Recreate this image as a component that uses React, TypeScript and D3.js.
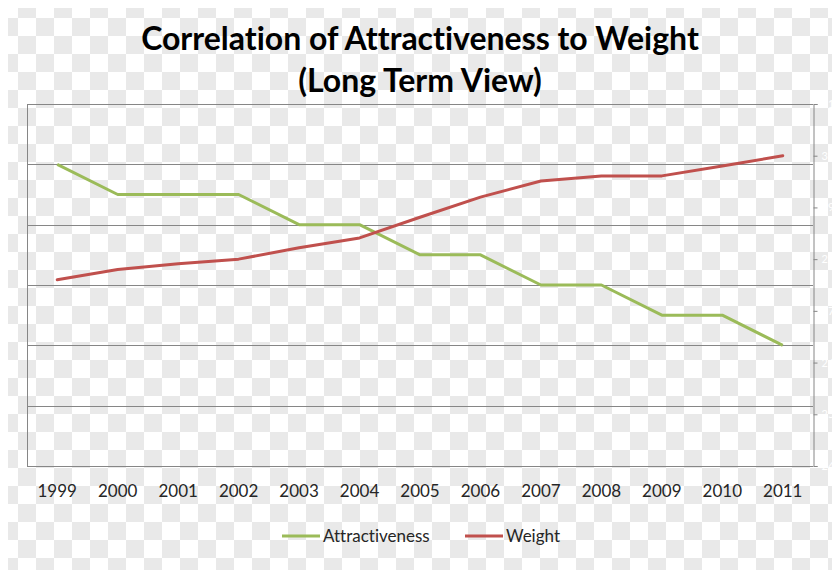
import { useEffect, useRef } from "react";
import * as d3 from "d3";

const years = ["1999", "2000", "2001", "2002", "2003", "2004", "2005", "2006", "2007", "2008", "2009", "2010", "2011"];
const attractiveness = [5, 4.5, 4.5, 4.5, 4, 4, 3.5, 3.5, 3, 3, 2.5, 2.5, 2];
const weight = [276, 278, 279.1, 280, 282.2, 284.1, 288.1, 292, 295.1, 296.1, 296.1, 298, 300];
const leftTicks = [0, 1, 2, 3, 4, 5, 6];
const rightTicks = [240, 250, 260, 270, 280, 290, 300, 310];

const GREEN = "#9bbb59";
const RED = "#c0504d";
const FONT = "Lato, sans-serif";

const App = () => {
  const svgRef = useRef<SVGSVGElement | null>(null);

  useEffect(() => {
    d3.select(svgRef.current).selectAll("*").remove();

    const width = 840;
    const height = 578;
    const plot = { left: 27, right: 813, top: 104, bottom: 466 };

    const svg = d3
      .select(svgRef.current)
      .attr("width", width)
      .attr("height", height)
      .style("font-variant-ligatures", "none");

    // checkerboard background
    const defs = svg.append("defs");
    const pat = defs
      .append("pattern")
      .attr("id", "checker")
      .attr("width", 36)
      .attr("height", 36)
      .attr("patternUnits", "userSpaceOnUse");
    pat.append("rect").attr("width", 36).attr("height", 36).attr("fill", "#ffffff");
    pat.append("rect").attr("x", 18).attr("y", 0).attr("width", 18).attr("height", 18).attr("fill", "#e9e9e9");
    pat.append("rect").attr("x", 0).attr("y", 18).attr("width", 18).attr("height", 18).attr("fill", "#e9e9e9");
    svg.append("rect").attr("width", width).attr("height", height).attr("fill", "url(#checker)");

    const x = d3.scaleBand().domain(years).range([plot.left, plot.right]);
    const cx = (d: string) => (x(d) || 0) + x.bandwidth() / 2;
    const yL = d3.scaleLinear().domain([0, 6]).range([plot.bottom, plot.top]);
    const yR = d3.scaleLinear().domain([240, 310]).range([plot.bottom, plot.top]);

    // gridlines
    svg
      .append("g")
      .selectAll("line")
      .data(leftTicks)
      .enter()
      .append("line")
      .attr("x1", plot.left)
      .attr("x2", plot.right)
      .attr("y1", (d) => Math.round(yL(d)) + 0.5)
      .attr("y2", (d) => Math.round(yL(d)) + 0.5)
      .attr("stroke", "#868686")
      .attr("stroke-width", 1);

    // left border
    svg
      .append("line")
      .attr("x1", plot.left + 0.5)
      .attr("x2", plot.left + 0.5)
      .attr("y1", plot.top)
      .attr("y2", plot.bottom)
      .attr("stroke", "#868686");

    // secondary axis (labels are white in the original)
    const rAxis = svg
      .append("g")
      .attr("transform", `translate(${plot.right + 0.5},0)`)
      .call(d3.axisRight(yR).tickValues(rightTicks).tickSize(4).tickPadding(4));
    rAxis.selectAll("path, line").attr("stroke", "#868686");
    rAxis.selectAll("text").attr("fill", "#ffffff").style("font-family", FONT).style("font-size", "11px");

    // x labels
    svg
      .append("g")
      .selectAll("text")
      .data(years)
      .enter()
      .append("text")
      .attr("x", (d) => cx(d))
      .attr("y", 497)
      .attr("text-anchor", "middle")
      .style("font-family", FONT)
      .style("font-size", "17px")
      .attr("fill", "#262626")
      .text((d) => d);

    const lineL = d3
      .line<number>()
      .x((_, i) => cx(years[i]))
      .y((d) => yL(d));
    const lineR = d3
      .line<number>()
      .x((_, i) => cx(years[i]))
      .y((d) => yR(d));

    svg
      .append("path")
      .datum(attractiveness)
      .attr("d", lineL)
      .attr("fill", "none")
      .attr("stroke", GREEN)
      .attr("stroke-width", 3)
      .attr("stroke-linejoin", "round");

    svg
      .append("path")
      .datum(weight)
      .attr("d", lineR)
      .attr("fill", "none")
      .attr("stroke", RED)
      .attr("stroke-width", 3)
      .attr("stroke-linejoin", "round")
      .attr("stroke-linecap", "round");

    // title
    const title = svg
      .append("text")
      .attr("text-anchor", "middle")
      .style("font-family", FONT)
      .style("font-weight", "700")
      .style("font-size", "32px")
      .attr("fill", "#000000");
    title.append("tspan").attr("x", 420).attr("y", 50).text("Correlation of Attractiveness to Weight");
    title.append("tspan").attr("x", 420).attr("y", 92).text("(Long Term View)");

    // legend
    const legend = [
      { name: "Attractiveness", color: GREEN, x: 282 },
      { name: "Weight", color: RED, x: 465 },
    ];
    const lg = svg.append("g").selectAll("g").data(legend).enter().append("g");
    lg.append("line")
      .attr("x1", (d) => d.x)
      .attr("x2", (d) => d.x + 38)
      .attr("y1", 536)
      .attr("y2", 536)
      .attr("stroke", (d) => d.color)
      .attr("stroke-width", 3);
    lg.append("text")
      .attr("x", (d) => d.x + 41)
      .attr("y", 542)
      .style("font-family", FONT)
      .style("font-size", "17px")
      .attr("fill", "#262626")
      .text((d) => d.name);
  });

  return (
    <div style={{ margin: -8 }}>
      <svg ref={svgRef} style={{ display: "block" }} />
    </div>
  );
};

export default App;
